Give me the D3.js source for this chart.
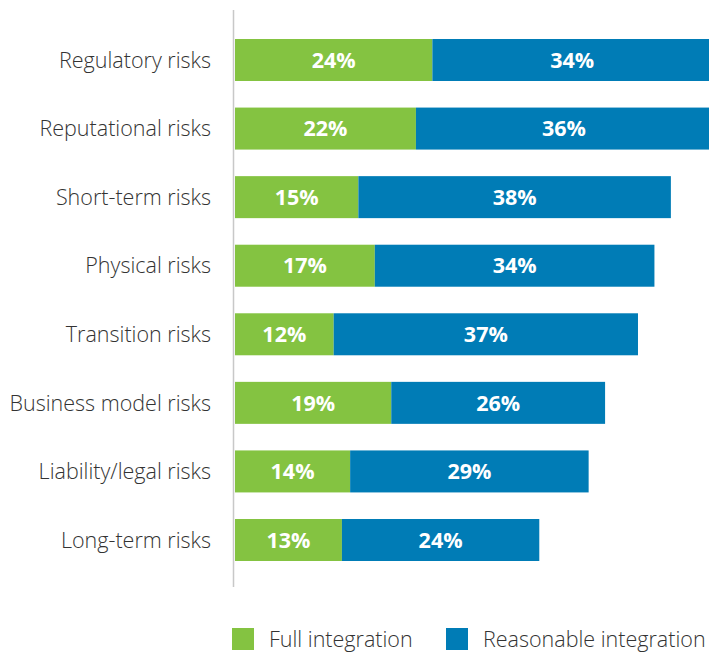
<!DOCTYPE html>
<html>
<head>
<meta charset="utf-8">
<script src="https://cdn.jsdelivr.net/npm/d3@7"></script>
<style>
  body { margin: 0; background: #fff; }
  svg { display: block; font-family: "Open Sans", sans-serif; }
</style>
</head>
<body>
<div id="chart"></div>
<script>
const width = 709;
const height = 652;

const categories = [
  "Regulatory risks",
  "Reputational risks",
  "Short-term risks",
  "Physical risks",
  "Transition risks",
  "Business model risks",
  "Liability/legal risks",
  "Long-term risks",
];
const fullIntegration = [24, 22, 15, 17, 12, 19, 14, 13];
const reasonableIntegration = [34, 36, 38, 34, 37, 26, 29, 24];
const seriesNames = ["Full integration", "Reasonable integration"];
const colors = ["#84c341", "#007cb6"];

const svg = d3
  .select("#chart")
  .append("svg")
  .attr("width", width)
  .attr("height", height);

const x = d3.scaleLinear().domain([0, 58]).range([235, 712]);

const y = d3
  .scaleBand()
  .domain(categories)
  .range([39, 561])
  .paddingInner(0.3875)
  .paddingOuter(0);

// stack the two series per row
const rows = categories.map((c, i) => ({
  category: c,
  full: fullIntegration[i],
  reasonable: reasonableIntegration[i],
}));
const stacked = d3.stack().keys(["full", "reasonable"])(rows);

const layers = svg
  .selectAll(".layer")
  .data(stacked)
  .join("g")
  .attr("class", "layer")
  .attr("fill", (d, i) => colors[i]);

layers
  .selectAll("rect")
  .data((d) => d)
  .join("rect")
  .attr("x", (d) => x(d[0]))
  .attr("y", (d) => y(d.data.category))
  .attr("width", (d) => x(d[1]) - x(d[0]))
  .attr("height", y.bandwidth());

layers
  .selectAll("text")
  .data((d) => d)
  .join("text")
  .attr("x", (d) => (x(d[0]) + x(d[1])) / 2)
  .attr("y", (d) => y(d.data.category) + y.bandwidth() / 2)
  .attr("dy", "0.36em")
  .attr("text-anchor", "middle")
  .attr("fill", "#fff")
  .style("font-size", "21.5px")
  .style("font-weight", 700)
  .text((d) => `${d[1] - d[0]}%`);

// category labels
svg
  .append("g")
  .selectAll("text")
  .data(categories)
  .join("text")
  .attr("x", 211)
  .attr("y", (d) => y(d) + y.bandwidth() / 2)
  .attr("dy", "0.36em")
  .attr("text-anchor", "end")
  .attr("fill", "#333")
  .style("font-size", "21.5px")
  .style("font-weight", 300)
  .text((d) => d);

// vertical axis line
svg
  .append("line")
  .attr("x1", 233.5)
  .attr("x2", 233.5)
  .attr("y1", 10)
  .attr("y2", 587)
  .attr("stroke", "#c8c8c8")
  .attr("stroke-width", 1.5);

// legend
const legendX = [232, 446];
const legend = svg
  .append("g")
  .selectAll("g")
  .data(seriesNames)
  .join("g")
  .attr("transform", (d, i) => `translate(${legendX[i]},628)`);

legend
  .append("rect")
  .attr("width", 22)
  .attr("height", 22)
  .attr("fill", (d, i) => colors[i]);

legend
  .append("text")
  .attr("x", 37)
  .attr("y", 11)
  .attr("dy", "0.36em")
  .attr("fill", "#333")
  .style("font-size", "21.5px")
  .style("font-weight", 300)
  .text((d) => d);
</script>
</body>
</html>
